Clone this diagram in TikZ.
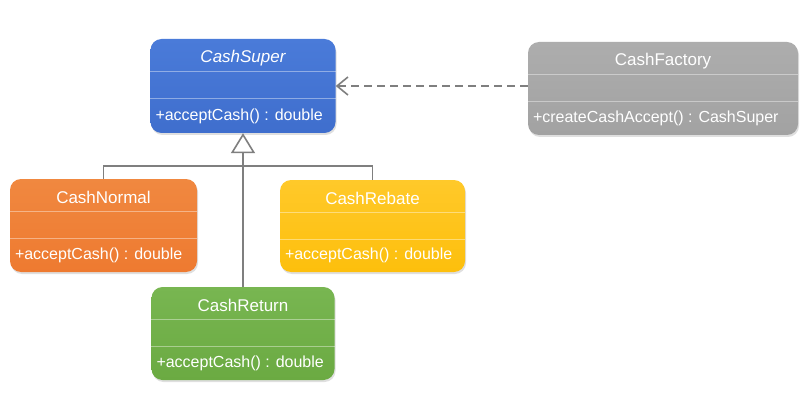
\documentclass[tikz,border=0pt]{standalone}
\usepackage{fontspec}
\setmainfont{Liberation Sans}
\usetikzlibrary{arrows.meta,shadows,calc}
\definecolor{cblue}{HTML}{3F6ECD}
\definecolor{cbluetop}{HTML}{4A7BD9}
\definecolor{corange}{HTML}{EE7A30}
\definecolor{corangetop}{HTML}{F08840}
\definecolor{cyellow}{HTML}{FDBF0C}
\definecolor{cyellowtop}{HTML}{FFC92A}
\definecolor{cgreen}{HTML}{6BAA42}
\definecolor{cgreentop}{HTML}{78B651}
\definecolor{cgray}{HTML}{A2A2A2}
\definecolor{cgraytop}{HTML}{ADADAD}
\definecolor{linegray}{HTML}{7F7F7F}
\tikzset{
  umlbox/.style={rounded corners=11pt, draw=none, inner sep=0pt,
    drop shadow={opacity=0.25, shadow xshift=1pt, shadow yshift=-2pt}},
  divider/.style={draw=white, opacity=0.4, line width=0.8pt},
  ttext/.style={text=white, font=\fontsize{17}{20}\selectfont, inner sep=0pt},
  mtext/.style={text=white, font=\fontsize{16}{19}\selectfont, inner sep=0pt},
  genline/.style={draw=linegray, line width=1.6pt},
  dep/.style={draw=linegray, line width=1.6pt, dash pattern=on 8pt off 5pt,
    -{Straight Barb[length=11pt,width=18pt,line width=1.6pt]}},
}
\newcommand{\umlclass}[9]{%
  % #1 name, #2 cx, #3 cy, #4 w, #5 h, #6 top col, #7 bottom col, #8 title, #9 method
  \node[umlbox, top color=#6, bottom color=#7, minimum width=#4pt, minimum height=#5pt] (#1) at (#2,#3) {};
  \draw[divider] ($(#1.north west)+(0,33)$) -- ($(#1.north east)+(0,33)$);
  \draw[divider] ($(#1.north west)+(0,60)$) -- ($(#1.north east)+(0,60)$);
  \node[ttext] (#1-t) at ($(#1.north)+(0,19)$) {#8};
  \node[mtext, anchor=west] (#1-m) at ($(#1.south west)+(5,-16.5)$) {#9};
}
\begin{document}
\begin{tikzpicture}[x=1pt,y=-1pt]
\useasboundingbox[fill=white] (0,0) rectangle (811,401);
\umlclass{super}{243}{86}{185}{94}{cbluetop}{cblue}{\itshape CashSuper}{+acceptCash() : double}
\umlclass{factory}{663}{88.5}{270}{93}{cgraytop}{cgray}{CashFactory}{+createCashAccept() : CashSuper}
\umlclass{normal}{103.5}{225.5}{187}{93}{corangetop}{corange}{CashNormal}{+acceptCash() : double}
\umlclass{rebate}{372.5}{226}{185}{92}{cyellowtop}{cyellow}{CashRebate}{+acceptCash() : double}
\umlclass{ret}{243}{333.5}{183}{93}{cgreentop}{cgreen}{CashReturn}{+acceptCash() : double}
\coordinate (junc) at (243,166);
\draw[genline] (normal.north) |- (junc) -| (rebate.north);
\draw[genline, -{Triangle[open, length=20pt, width=24pt, fill=white, line width=1.6pt]}] (ret.north) -- (super.south);
\draw[dep] (factory.west |- super.east) -- (super.east);
\end{tikzpicture}
\end{document}
